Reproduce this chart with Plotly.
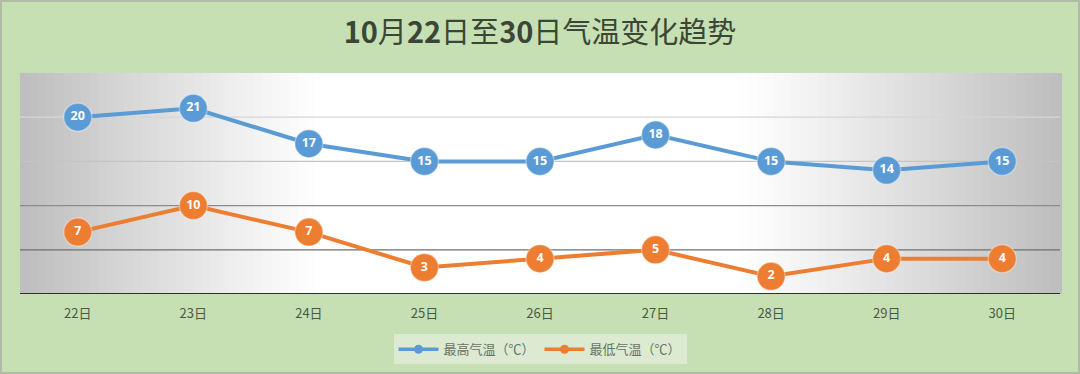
import plotly.graph_objects as go

days = ["22日", "23日", "24日", "25日", "26日", "27日", "28日", "29日", "30日"]
high = [20, 21, 17, 15, 15, 18, 15, 14, 15]
low = [7, 10, 7, 3, 4, 5, 2, 4, 4]
grid_vals = [5, 10, 15, 20]
grid_cols = ["#6f6f6f", "#8c8c8c", "#c4c4c4", "#d6d6d6"]

BLUE = "#5b9bd5"
ORANGE = "#ed7d31"
BG = "#c6e0b4"

fig = go.Figure()

for name, ys, col in [("最高气温（℃）", high, BLUE), ("最低气温（℃）", low, ORANGE)]:
    fig.add_trace(go.Scatter(
        x=days, y=ys, mode="lines+markers+text", text=[str(v) for v in ys],
        textposition="middle center",
        textfont=dict(family="Noto Sans, Open Sans, sans-serif", size=12.5, color="white", weight="bold"),
        line=dict(color=col, width=4),
        marker=dict(size=28, color=col, line=dict(color="rgba(255,255,255,0.35)", width=1.5)),
        showlegend=False, cliponaxis=False, name=name))

for name, col in [("最高气温（℃）", BLUE), ("最低气温（℃）", ORANGE)]:
    fig.add_trace(go.Scatter(x=[None], y=[None], mode="lines+markers", name=name,
                             line=dict(color=col, width=3.5), marker=dict(size=9, color=col)))

# horizontal gradient background of the plot area
shapes = []
N = 120
for i in range(N):
    t = (i + 0.5) / N
    if t < 0.29:
        f = (0.29 - t) / 0.29
    elif t > 0.69:
        f = (t - 0.69) / 0.31
    else:
        f = 0.0
    c = int(round(255 - 66 * f ** 1.1))
    shapes.append(dict(type="rect", xref="x domain", yref="y domain",
                       x0=i / N, x1=(i + 1) / N + 0.002, y0=0, y1=1,
                       fillcolor=f"rgb({c},{c},{c})", line=dict(width=0), layer="below"))
for v, gc in zip(grid_vals, grid_cols):
    shapes.append(dict(type="line", xref="x domain", yref="y", x0=0, x1=1, y0=v, y1=v,
                       line=dict(color=gc, width=1.2), layer="below"))
shapes.append(dict(type="line", xref="x domain", yref="y", x0=0, x1=1, y0=0, y1=0,
                   line=dict(color="#2f2f2f", width=2), layer="above"))
shapes.append(dict(type="rect", xref="paper", yref="paper", x0=-20/1040, x1=1 + 20/1040,
                   y0=-80/221, y1=1 + 73/221, line=dict(color="#b0bca8", width=4)))

fig.update_layout(
    width=1080, height=374,
    margin=dict(l=20, r=20, t=73, b=80, autoexpand=False),
    paper_bgcolor=BG, plot_bgcolor="white",
    title=dict(text="<b>10</b>月<b>22</b>日至<b>30</b>日气温变化趋势", x=0.5, xanchor="center",
               y=1 - 33 / 374, yanchor="middle",
               font=dict(family="Noto Sans CJK SC, sans-serif", size=29, color="#3b4636")),
    shapes=shapes,
    xaxis=dict(type="category", range=[-0.5, 8.5], showgrid=False, zeroline=False, showline=False,
               tickfont=dict(family="Noto Sans CJK SC, sans-serif", size=13, color="#4a5944"),
               ticks="", ticklabelstandoff=10),
    yaxis=dict(range=[0, 25], showgrid=False, zeroline=False, showticklabels=False, showline=False),
    legend=dict(orientation="h", x=0.5, xanchor="center", y=-0.25, yanchor="middle",
                bgcolor="rgba(225,236,218,0.8)",
                font=dict(family="Noto Sans CJK SC, sans-serif", size=13, color="#6a7268"),
                itemwidth=40),
)

fig.write_html("out.html", config={"displayModeBar": False},
               post_script="document.body.style.margin='0';")
